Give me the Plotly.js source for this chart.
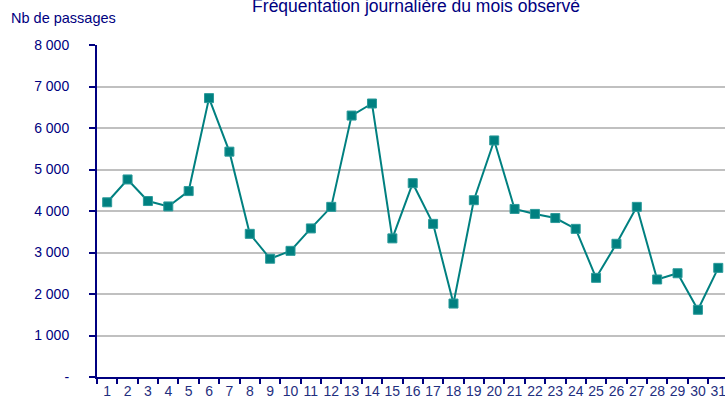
<!DOCTYPE html>
<html>
<head>
<meta charset="utf-8">
<script src="https://cdn.plot.ly/plotly-3.0.1.min.js"></script>
<style>html,body{margin:0;padding:0;background:#fff;}#chart{width:725px;height:401px;}</style>
</head>
<body>
<div id="chart"></div>
<script>
const days = ["1","2","3","4","5","6","7","8","9","10","11","12","13","14","15","16","17","18","19","20","21","22","23","24","25","26","27","28","29","30","31"];
const passages = [4210,4760,4240,4110,4480,6720,5430,3450,2850,3040,3580,4100,6300,6590,3340,4670,3690,1770,4260,5700,4050,3930,3830,3570,2390,3210,4100,2350,2500,1620,2630];
const yTickVals = [0,1000,2000,3000,4000,5000,6000,7000,8000];
const yTickText = ["-","1 000","2 000","3 000","4 000","5 000","6 000","7 000","8 000"];

const navy = "#000080";
const teal = "#008080";
const font = "Liberation Sans, Arial, sans-serif";

const trace = {
  x: days, y: passages, type: "scatter", mode: "lines+markers",
  line: {color: teal, width: 2},
  marker: {symbol: "square", size: 9, color: teal, line: {color: "#2a9a9a", width: 1}},
  cliponaxis: false, hoverinfo: "skip"
};

const layout = {
  width: 725, height: 401,
  margin: {l: 97, r: 0, t: 45, b: 24},
  paper_bgcolor: "#fff", plot_bgcolor: "#fff",
  font: {family: font, color: navy, size: 14},
  showlegend: false,
  title: {text: "Fréquentation journalière du mois observé", font: {family: font, size: 17.5, color: navy},
          x: 0.508, xref: "paper", xanchor: "center", y: 0.985, yref: "container", yanchor: "middle"},
  xaxis: {type: "category", range: [-0.5, 30.33], tickson: "boundaries", ticks: "outside", ticklen: 5,
          tickwidth: 2, tickcolor: navy, showline: true, linecolor: navy, linewidth: 2, tickangle: 0,
          showgrid: false, zeroline: false, tickfont: {family: font, size: 14, color: "#1f2f80"}, fixedrange: true},
  yaxis: {range: [0, 8000], tickvals: yTickVals, ticktext: yTickText, ticks: "outside", ticklen: 6,
          tickwidth: 2, tickcolor: navy, showline: true, linecolor: navy, linewidth: 2,
          showgrid: true, gridcolor: "#c0c0c0", gridwidth: 2, zeroline: false,
          tickfont: {family: font, size: 14, color: navy}, ticklabelstandoff: 17, fixedrange: true},
  annotations: [{text: "Nb de passages", xref: "paper", yref: "paper", x: -0.1394, y: 1.082,
                 xanchor: "left", yanchor: "middle", showarrow: false, font: {family: font, size: 14.5, color: navy}}]
};

Plotly.newPlot("chart", [trace], layout, {staticPlot: true, displayModeBar: false});
</script>
</body>
</html>
